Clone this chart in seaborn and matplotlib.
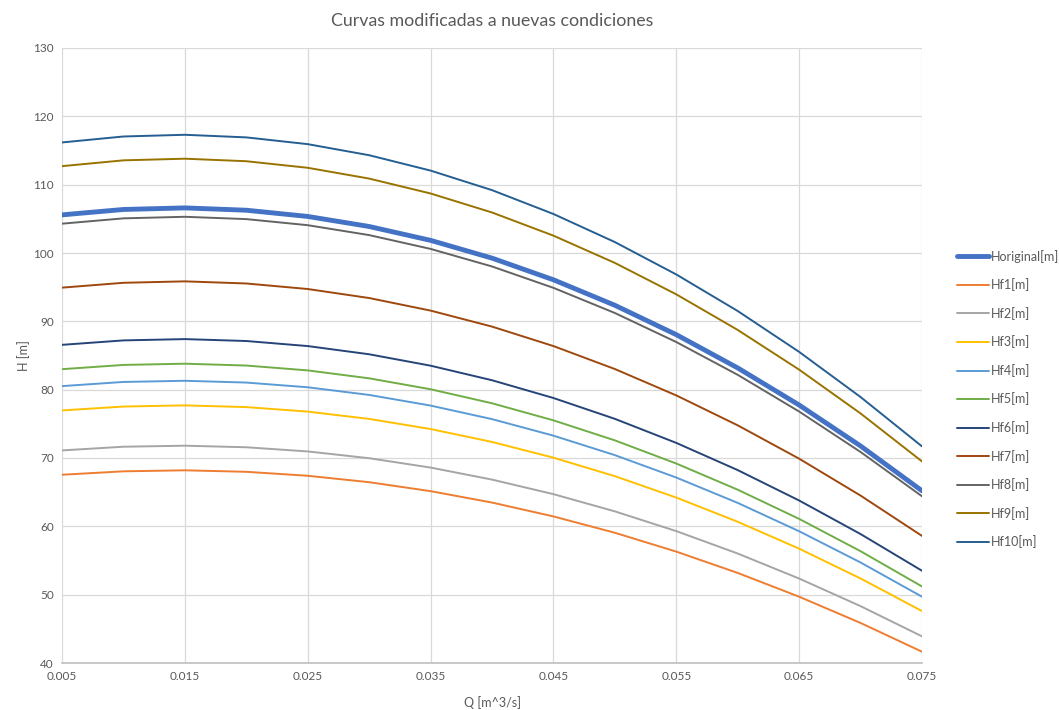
import matplotlib
matplotlib.use("Agg")
import matplotlib.pyplot as plt
import seaborn as sns
import pandas as pd

q = [0.005, 0.010, 0.015, 0.020, 0.025, 0.030, 0.035, 0.040,
     0.045, 0.050, 0.055, 0.060, 0.065, 0.070, 0.075]

h_original = [105.58, 106.37, 106.60, 106.26, 105.35, 103.88, 101.85, 99.25,
              96.08, 92.35, 88.05, 83.18, 77.75, 71.76, 65.20]
hf1 = [67.55, 68.05, 68.20, 67.98, 67.40, 66.46, 65.15, 63.48,
       61.45, 59.06, 56.30, 53.18, 49.70, 45.86, 41.65]
hf2 = [71.11, 71.65, 71.80, 71.57, 70.96, 69.97, 68.60, 66.84,
       64.71, 62.19, 59.30, 56.02, 52.36, 48.32, 43.90]
hf3 = [76.96, 77.53, 77.70, 77.45, 76.79, 75.72, 74.24, 72.35,
       70.05, 67.34, 64.21, 60.67, 56.73, 52.37, 47.60]
hf4 = [80.52, 81.13, 81.30, 81.04, 80.35, 79.23, 77.67, 75.69,
       73.27, 70.42, 67.14, 63.43, 59.28, 54.71, 49.70]
hf5 = [83.00, 83.62, 83.80, 83.53, 82.82, 81.66, 80.06, 78.01,
       75.51, 72.58, 69.19, 65.36, 61.09, 56.36, 51.20]
hf6 = [86.56, 87.21, 87.40, 87.12, 86.38, 85.18, 83.51, 81.38,
       78.78, 75.73, 72.21, 68.23, 63.78, 58.87, 53.50]
hf7 = [94.93, 95.64, 95.85, 95.54, 94.73, 93.41, 91.57, 89.23,
       86.38, 83.02, 79.16, 74.78, 69.90, 64.50, 58.60]
hf8 = [104.29, 105.07, 105.30, 104.96, 104.07, 102.62, 100.60, 98.03,
       94.90, 91.22, 86.97, 82.17, 76.80, 70.88, 64.40]
hf9 = [112.71, 113.56, 113.80, 113.43, 112.47, 110.89, 108.71, 105.93,
       102.54, 98.55, 93.95, 88.74, 82.93, 76.52, 69.50]
hf10 = [116.18, 117.05, 117.30, 116.92, 115.93, 114.31, 112.06, 109.20,
        105.71, 101.60, 96.86, 91.51, 85.53, 78.92, 71.70]

series_names = ["Horiginal[m]", "Hf1[m]", "Hf2[m]", "Hf3[m]", "Hf4[m]", "Hf5[m]",
                "Hf6[m]", "Hf7[m]", "Hf8[m]", "Hf9[m]", "Hf10[m]"]
series_values = [h_original, hf1, hf2, hf3, hf4, hf5, hf6, hf7, hf8, hf9, hf10]
colors = ["#4472C4", "#ED7D31", "#A5A5A5", "#FFC000", "#5B9BD5", "#70AD47",
          "#264478", "#9E480E", "#636363", "#997300", "#255E91"]
widths = [3.5, 1.4, 1.4, 1.4, 1.4, 1.4, 1.4, 1.4, 1.4, 1.4, 1.4]

x_ticks = [0.005, 0.015, 0.025, 0.035, 0.045, 0.055, 0.065, 0.075]
x_tick_labels = ["0.005", "0.015", "0.025", "0.035", "0.045", "0.055", "0.065", "0.075"]
y_ticks = [40, 50, 60, 70, 80, 90, 100, 110, 120, 130]

rows = []
for name, vals in zip(series_names, series_values):
    for qq, hh in zip(q, vals):
        rows.append({"Q": qq, "H": hh, "serie": name})
df = pd.DataFrame(rows)

sns.set_theme(style="white")
plt.rcParams["font.family"] = ["Lato", "DejaVu Sans"]

fig = plt.figure(figsize=(10.59, 7.10), dpi=100)
ax = fig.add_axes([62 / 1059, 1 - 663 / 710, (922 - 62) / 1059, (663 - 48) / 710])

for name, col, lw in zip(series_names, colors, widths):
    sns.lineplot(data=df[df["serie"] == name], x="Q", y="H", color=col,
                 linewidth=lw, ax=ax, label=name, legend=False)

ax.set_xlim(0.005, 0.075)
ax.set_ylim(40, 130)
ax.set_xticks(x_ticks)
ax.set_xticklabels(x_tick_labels)
ax.set_yticks(y_ticks)
ax.grid(True, color="#D9D9D9", linewidth=0.9)
ax.set_axisbelow(True)
for s in ["top", "right", "left"]:
    ax.spines[s].set_visible(False)
ax.spines["bottom"].set_color("#BFBFBF")
ax.spines["bottom"].set_linewidth(1.2)
ax.tick_params(axis="both", length=0, labelsize=8.5, labelcolor="#595959", pad=6)

ax.set_xlabel("Q [m^3/s]", fontsize=9, color="#595959", labelpad=10)
ax.set_ylabel("H [m]", fontsize=9, color="#595959", labelpad=2)
ax.set_title("Curvas modificadas a nuevas condiciones", fontsize=12.75,
             color="#595959", pad=16)

handles, labels = ax.get_legend_handles_labels()
fig.legend(handles, labels, loc="center left",
           bbox_to_anchor=(946 / 1059, 1 - 399 / 710), frameon=False,
           fontsize=9, labelcolor="#595959", handlelength=2.5,
           handletextpad=0.15, labelspacing=1.25)

fig.savefig("out.png", dpi=100)
